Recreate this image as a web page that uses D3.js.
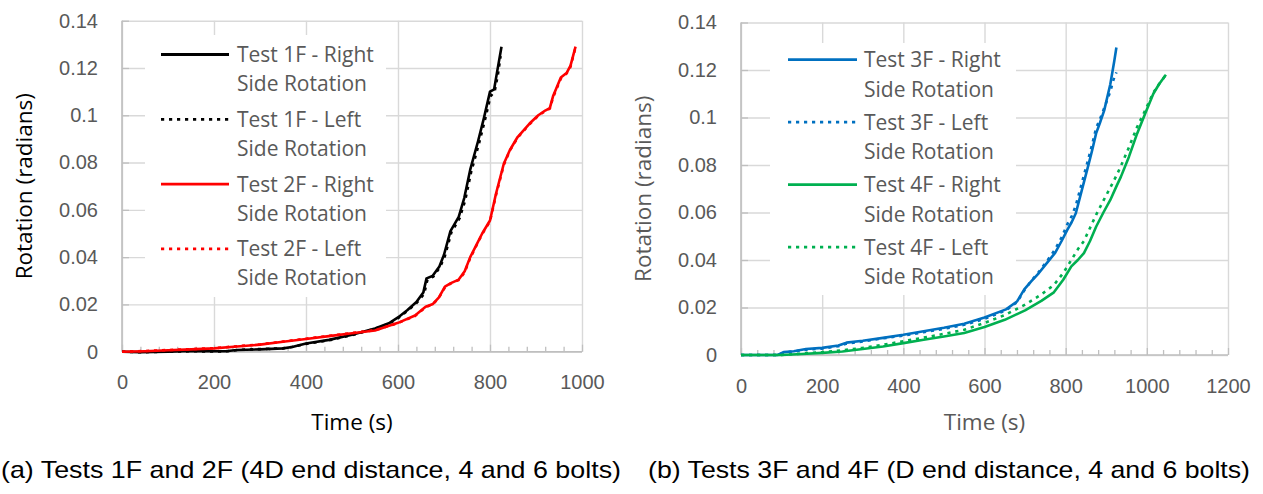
<!DOCTYPE html>
<html>
<head>
<meta charset="utf-8">
<script src="https://cdn.jsdelivr.net/npm/d3@7"></script>
<style>
  body { margin: 0; background: #fff; }
  svg { display: block; font-family: "Open Sans", sans-serif; }
  .grid line { stroke: #d9d9d9; stroke-width: 1.4; }
  .grid path { display: none; }
  .grid text { fill: #595959; font-size: 20px; }
  .minor line { stroke: #bfbfbf; stroke-width: 1.3; }
  .minor path { display: none; }
  .frame { stroke: #bfbfbf; stroke-width: 1.6; }
  .series { fill: none; stroke-width: 2.6; stroke-linejoin: round; }
  .legend-text { fill: #595959; font-size: 21px; }
  .caption { font-family: "Liberation Sans Narrow", "Liberation Sans", Arial, sans-serif; font-size: 24px; fill: #000; }
</style>
</head>
<body>
<div id="chart"></div>
<script>
// tick values
const yTicks = [0, 0.02, 0.04, 0.06, 0.08, 0.1, 0.12, 0.14];
const xTicksA = [0, 200, 400, 600, 800, 1000];
const xTicksB = [0, 200, 400, 600, 800, 1000, 1200];

// (a) Tests 1F and 2F  -  [time (s), rotation (rad)]
const test1FRight = [[0,0],[40,-0.0002],[100,0],[150,0.0003],[200,0.0002],[225,0.0002],[250,0.0007],[300,0.001],[350,0.0014],[370,0.002],[400,0.0035],[450,0.005],[500,0.0072],[550,0.0098],[580,0.012],[600,0.0145],[620,0.0175],[640,0.021],[655,0.025],[662,0.031],[675,0.032],[690,0.036],[700,0.041],[714,0.051],[732,0.057],[744,0.065],[757,0.077],[774,0.089],[787,0.099],[800,0.11],[809,0.111],[816,0.119],[825,0.129]];
const test1FLeft = [[0,0],[40,-0.0002],[100,0],[150,0.0002],[200,0.0001],[230,0.0002],[255,0.0008],[300,0.0011],[350,0.0014],[375,0.0022],[400,0.0033],[450,0.0048],[500,0.007],[550,0.0097],[580,0.0118],[600,0.0142],[620,0.0172],[640,0.0205],[657,0.0245],[664,0.0305],[677,0.0318],[692,0.036],[702,0.0405],[716,0.0505],[734,0.0565],[746,0.064],[759,0.076],[776,0.088],[789,0.098],[801,0.108],[810,0.11],[817,0.117],[823,0.125]];
const test2FRight = [[0,0],[50,0.0002],[100,0.0006],[150,0.001],[200,0.0014],[250,0.0022],[300,0.003],[350,0.0042],[400,0.0054],[450,0.0066],[500,0.0078],[550,0.009],[600,0.0122],[637,0.0153],[660,0.019],[676,0.0202],[689,0.023],[702,0.0275],[715,0.029],[732,0.0305],[745,0.034],[757,0.04],[770,0.045],[783,0.05],[800,0.0555],[813,0.0668],[830,0.0795],[843,0.0852],[860,0.0908],[886,0.0965],[905,0.1],[920,0.102],[930,0.103],[937,0.108],[954,0.116],[967,0.118],[975,0.121],[986,0.129]];
const test2FLeft = [[0,0],[50,0.0003],[100,0.0007],[150,0.0011],[200,0.0015],[250,0.0023],[300,0.0031],[350,0.0043],[400,0.0055],[450,0.0067],[500,0.0079],[550,0.0091],[600,0.0121],[637,0.0151],[660,0.0188],[676,0.0201],[689,0.0228],[702,0.0272],[715,0.0289],[732,0.0303],[745,0.0336],[757,0.0396],[770,0.0447],[783,0.0497],[800,0.0552],[813,0.0662],[830,0.079],[843,0.085],[860,0.0905],[886,0.0962],[905,0.0998],[920,0.1018],[930,0.1028],[937,0.1075],[954,0.1155],[967,0.1178],[975,0.1205],[985,0.128]];

// (b) Tests 3F and 4F
const test3FRight = [[0,0],[90,0],[105,0.0012],[130,0.0016],[160,0.0025],[200,0.003],[240,0.004],[260,0.0052],[300,0.006],[350,0.0072],[400,0.0085],[450,0.01],[500,0.0115],[550,0.0132],[600,0.0158],[653,0.0192],[680,0.0225],[698,0.0276],[715,0.031],[734,0.0345],[755,0.039],[774,0.043],[790,0.048],[804,0.0527],[815,0.056],[825,0.0597],[840,0.0695],[855,0.0793],[865,0.086],[875,0.0933],[885,0.098],[895,0.103],[910,0.114],[920,0.124],[925,0.1295]];
const test3FLeft = [[0,0],[90,0],[105,0.001],[130,0.0015],[160,0.0022],[200,0.0027],[240,0.0037],[260,0.0048],[300,0.0057],[350,0.007],[400,0.0082],[450,0.0096],[500,0.011],[550,0.0127],[600,0.0152],[653,0.0188],[680,0.0222],[698,0.0272],[715,0.0312],[734,0.035],[755,0.0398],[774,0.0445],[790,0.0495],[804,0.055],[815,0.0585],[825,0.063],[840,0.0725],[855,0.082],[865,0.0885],[875,0.0955],[885,0.0995],[895,0.104],[910,0.111],[918,0.116],[925,0.119]];
const test4FRight = [[0,0],[100,0],[150,0.0004],[200,0.0009],[250,0.0015],[300,0.0025],[350,0.0036],[400,0.005],[450,0.0064],[500,0.0078],[550,0.0093],[600,0.0118],[650,0.0148],[700,0.0188],[740,0.0228],[771,0.0264],[794,0.0317],[814,0.0373],[830,0.04],[845,0.0429],[860,0.048],[875,0.054],[893,0.06],[910,0.0653],[925,0.071],[936,0.075],[956,0.0835],[976,0.0932],[996,0.1017],[1016,0.11],[1030,0.114],[1047,0.118]];
const test4FLeft = [[0,0],[100,0],[150,0.0006],[200,0.0012],[250,0.002],[300,0.003],[350,0.0043],[400,0.0058],[450,0.0073],[500,0.0089],[550,0.0106],[600,0.0135],[650,0.0168],[700,0.0212],[740,0.0255],[771,0.0295],[794,0.0345],[814,0.04],[830,0.0445],[845,0.048],[860,0.0535],[875,0.059],[893,0.065],[910,0.0705],[925,0.0755],[936,0.0795],[956,0.0875],[976,0.096],[996,0.103],[1016,0.1105],[1030,0.114],[1045,0.1175]];

// legend labels, two lines each
const labelsA = [["Test 1F - Right", "Side Rotation"], ["Test 1F - Left", "Side Rotation"], ["Test 2F - Right", "Side Rotation"], ["Test 2F - Left", "Side Rotation"]];
const labelsB = [["Test 3F - Right", "Side Rotation"], ["Test 3F - Left", "Side Rotation"], ["Test 4F - Right", "Side Rotation"], ["Test 4F - Left", "Side Rotation"]];

const captionA = "(a) Tests 1F and 2F (4D end distance, 4 and 6 bolts)";
const captionB = "(b) Tests 3F and 4F (D end distance, 4 and 6 bolts)";

const svg = d3.select('#chart').append('svg').attr('width', 1263).attr('height', 494);

function drawPanel(opts) {
    const g = svg.append('g');
    const x = d3.scaleLinear().domain([0, opts.xMax]).range([opts.left, opts.right]);
    const y = d3.scaleLinear().domain([0, 0.14]).range([opts.bottom, opts.top]);
    const w = opts.right - opts.left, h = opts.bottom - opts.top;

    // gridlines + tick labels
    g.append('g').attr('class', 'grid').attr('transform', `translate(${opts.left},0)`)
        .call(d3.axisLeft(y).tickValues(yTicks).tickSize(-w).tickPadding(24).tickFormat(d => String(d)));
    g.append('g').attr('class', 'grid').attr('transform', `translate(0,${opts.bottom})`)
        .call(d3.axisBottom(x).tickValues(opts.xTicks).tickSize(-h).tickPadding(opts.xPad).tickFormat(d => String(d)));

    // white legend box hides the gridlines
    g.append('rect').attr('x', opts.legend.box[0]).attr('y', opts.legend.box[1])
        .attr('width', opts.legend.box[2]).attr('height', opts.legend.box[3]).attr('fill', '#fff');

    // minor ticks every 40 s, pointing inward
    const minors = d3.range(0, opts.xMax + 1, 40).filter(v => v % 200 !== 0);
    g.append('g').attr('class', 'minor').attr('transform', `translate(0,${opts.bottom})`)
        .call(d3.axisBottom(x).tickValues(minors).tickSize(-5).tickFormat(''));
    g.append('g').attr('class', 'minor').attr('transform', `translate(0,${opts.bottom})`)
        .call(d3.axisBottom(x).tickValues(opts.xTicks).tickSize(-7).tickFormat(''));
    g.append('g').attr('class', 'minor').attr('transform', `translate(${opts.left},0)`)
        .call(d3.axisLeft(y).tickValues(yTicks).tickSize(-7).tickFormat(''));

    // axis lines
    g.append('line').attr('class', 'frame').attr('x1', opts.left).attr('x2', opts.left).attr('y1', opts.top).attr('y2', opts.bottom);
    g.append('line').attr('class', 'frame').attr('x1', opts.left).attr('x2', opts.right).attr('y1', opts.bottom).attr('y2', opts.bottom);

    // series
    const line = d3.line().x(d => x(d[0])).y(d => y(d[1]));
    opts.series.forEach(s => {
        g.append('path').datum(s.data).attr('class', 'series')
            .attr('stroke', s.color).attr('stroke-dasharray', s.dotted ? '3.2,4.8' : null)
            .attr('d', line);
    });

    // legend
    const lg = opts.legend;
    opts.series.forEach((s, i) => {
        const cy = lg.y0 + i * lg.step;
        g.append('line').attr('x1', lg.x1).attr('x2', lg.x2).attr('y1', cy).attr('y2', cy)
            .attr('stroke', s.color).attr('stroke-width', 2.8)
            .attr('stroke-dasharray', s.dotted ? '3.2,4.8' : null);
        s.label.forEach((t, j) => {
            g.append('text').attr('class', 'legend-text').attr('x', lg.tx)
                .attr('y', cy + 7.5 + j * lg.lineGap).text(t);
        });
    });

    // axis titles
    g.append('text').attr('transform', `translate(${opts.yTitleX},${(opts.top + opts.bottom) / 2})rotate(-90)`)
        .attr('text-anchor', 'middle').attr('font-size', 22.5).attr('fill', opts.titleColor)
        .text('Rotation (radians)');
    g.append('text').attr('x', (opts.left + opts.right) / 2).attr('y', opts.xTitleY)
        .attr('text-anchor', 'middle').attr('font-size', 22.5).attr('fill', opts.titleColor)
        .text('Time (s)');
}

drawPanel({
    xMax: 1000, xTicks: xTicksA, left: 122, right: 582, top: 20.7, bottom: 351.7, xPad: 23,
    yTitleX: 32, xTitleY: 430, titleColor: '#000',
    legend: { box: [145, 35, 241, 262], x1: 161, x2: 229, tx: 237, y0: 54.5, step: 64.8, lineGap: 29 },
    series: [
        { data: test1FRight, color: '#000000', dotted: false, label: labelsA[0] },
        { data: test1FLeft, color: '#000000', dotted: true, label: labelsA[1] },
        { data: test2FRight, color: '#ff0000', dotted: false, label: labelsA[2] },
        { data: test2FLeft, color: '#ff0000', dotted: true, label: labelsA[3] }
    ]
});

drawPanel({
    xMax: 1200, xTicks: xTicksB, left: 741, right: 1228, top: 22.5, bottom: 355, xPad: 24,
    yTitleX: 651, xTitleY: 430, titleColor: '#595959',
    legend: { box: [770, 43, 246, 252], x1: 788, x2: 857, tx: 864, y0: 59.7, step: 62.5, lineGap: 29.5 },
    series: [
        { data: test3FRight, color: '#0070c0', dotted: false, label: labelsB[0] },
        { data: test3FLeft, color: '#0070c0', dotted: true, label: labelsB[1] },
        { data: test4FRight, color: '#00b050', dotted: false, label: labelsB[2] },
        { data: test4FLeft, color: '#00b050', dotted: true, label: labelsB[3] }
    ]
});

// captions
svg.append('text').attr('class', 'caption').attr('x', 1).attr('y', 478)
    .attr('textLength', 620).attr('lengthAdjust', 'spacingAndGlyphs').text(captionA);
svg.append('text').attr('class', 'caption').attr('x', 648).attr('y', 478)
    .attr('textLength', 602).attr('lengthAdjust', 'spacingAndGlyphs').text(captionB);
</script>
</body>
</html>
